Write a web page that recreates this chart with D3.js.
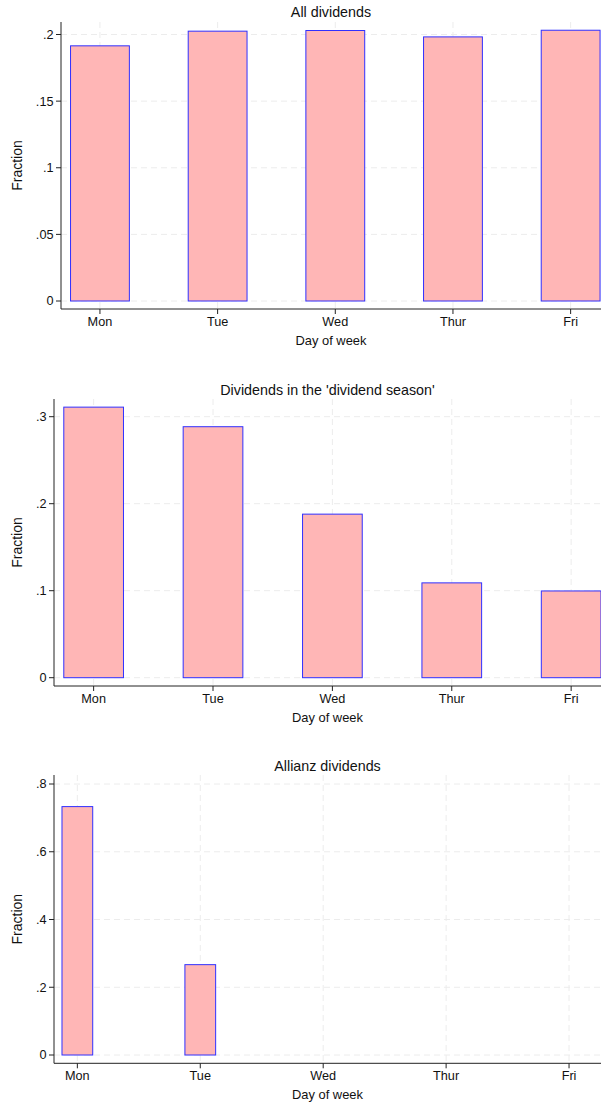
<!DOCTYPE html>
<html>
<head>
<meta charset="utf-8">
<script src="https://cdn.jsdelivr.net/npm/d3@7"></script>
<style>
  body { margin: 0; background: #fff; }
  svg { display: block; font-family: "Liberation Sans", Arial, sans-serif; }
</style>
</head>
<body>
<svg id="chart"></svg>
<script>
// data
const days = ["Mon", "Tue", "Wed", "Thur", "Fri"];
const dayCodes = [1, 2, 3, 4, 5];
const allDividends = [0.1915, 0.2025, 0.203, 0.1982, 0.2032];
const seasonDividends = [0.311, 0.2885, 0.188, 0.109, 0.0997];
const allianzDividends = [0.7333, 0.2667, 0, 0, 0];
const ticksAll = [0, 0.05, 0.1, 0.15, 0.2];
const ticksSeason = [0, 0.1, 0.2, 0.3];
const ticksAllianz = [0, 0.2, 0.4, 0.6, 0.8];

const W = 601, H = 1105;
const svg = d3.select("#chart").attr("width", W).attr("height", H);

const fmt = d => d === 0 ? "0" : String(d).replace(/^0/, "");

// layout of each stacked panel (pixel positions)
const panels = [
  { title: "All dividends", values: allDividends, ticks: ticksAll,
    left: 61, titleY: 17.3, top: 22, zeroY: 301, topTickY: 34.5, axisY: 309,
    xDom: [0.669, 5.258], barW: 0.5 },
  { title: "Dividends in the 'dividend season'", values: seasonDividends, ticks: ticksSeason,
    left: 54, titleY: 395, top: 399, zeroY: 677.7, topTickY: 416.7, axisY: 686,
    xDom: [0.668, 5.25], barW: 0.5 },
  { title: "Allianz dividends", values: allianzDividends, ticks: ticksAllianz,
    left: 54, titleY: 771, top: 775, zeroY: 1055, topTickY: 784, axisY: 1063.3,
    xDom: [0.81, 5.26], barW: 0.25 }
];

panels.forEach(p => {
  const g = svg.append("g");
  const right = W;
  const x = d3.scaleLinear().domain(p.xDom).range([p.left, right]);
  const topTick = p.ticks[p.ticks.length - 1];
  const y = d3.scaleLinear().domain([0, topTick]).range([p.zeroY, p.topTickY]);

  // grid
  g.selectAll(".hg").data(p.ticks).join("line")
    .attr("x1", p.left).attr("x2", right)
    .attr("y1", d => y(d)).attr("y2", d => y(d))
    .attr("stroke", "#ececec").attr("stroke-dasharray", "6,4");
  g.selectAll(".vg").data(dayCodes).join("line")
    .attr("x1", d => x(d)).attr("x2", d => x(d))
    .attr("y1", p.top).attr("y2", p.axisY)
    .attr("stroke", "#ececec").attr("stroke-dasharray", "6,4");

  // bars
  const data = days.map((d, i) => ({ day: d, code: dayCodes[i], v: p.values[i] }));
  g.selectAll(".bar").data(data.filter(d => d.v > 0)).join("rect")
    .attr("x", d => x(d.code - p.barW / 2))
    .attr("width", d => x(d.code + p.barW / 2) - x(d.code - p.barW / 2))
    .attr("y", d => y(d.v))
    .attr("height", d => y(0) - y(d.v))
    .attr("fill", "#ffb6b6")
    .attr("stroke", "#3030ff")
    .attr("stroke-width", 1);

  // y axis
  g.append("line").attr("x1", p.left).attr("x2", p.left)
    .attr("y1", p.top).attr("y2", p.axisY).attr("stroke", "#222");
  g.selectAll(".yt").data(p.ticks).join("line")
    .attr("x1", p.left - 5).attr("x2", p.left)
    .attr("y1", d => y(d)).attr("y2", d => y(d)).attr("stroke", "#222");
  g.selectAll(".yl").data(p.ticks).join("text")
    .attr("x", p.left - 7.5).attr("y", d => y(d)).attr("dy", "0.35em")
    .attr("text-anchor", "end").attr("font-size", 12.7).attr("fill", "#111")
    .text(fmt);

  // x axis
  g.append("line").attr("x1", p.left).attr("x2", right)
    .attr("y1", p.axisY).attr("y2", p.axisY).attr("stroke", "#222");
  g.selectAll(".xt").data(dayCodes).join("line")
    .attr("x1", d => x(d)).attr("x2", d => x(d))
    .attr("y1", p.axisY).attr("y2", p.axisY + 5).attr("stroke", "#222");
  g.selectAll(".xl").data(data).join("text")
    .attr("x", d => x(d.code)).attr("y", p.axisY + 17)
    .attr("text-anchor", "middle").attr("font-size", 12.7).attr("fill", "#111")
    .text(d => d.day);

  const cx = (p.left + right) / 2;
  g.append("text").attr("x", cx).attr("y", p.axisY + 36)
    .attr("text-anchor", "middle").attr("font-size", 12.9).attr("fill", "#111")
    .text("Day of week");
  g.append("text").attr("x", cx).attr("y", p.titleY)
    .attr("text-anchor", "middle").attr("font-size", 14.3).attr("fill", "#111")
    .text(p.title);
  g.append("text")
    .attr("transform", `translate(21.5,${(p.top + p.axisY) / 2}) rotate(-90)`)
    .attr("text-anchor", "middle").attr("font-size", 14).attr("fill", "#111")
    .text("Fraction");
});
</script>
</body>
</html>
